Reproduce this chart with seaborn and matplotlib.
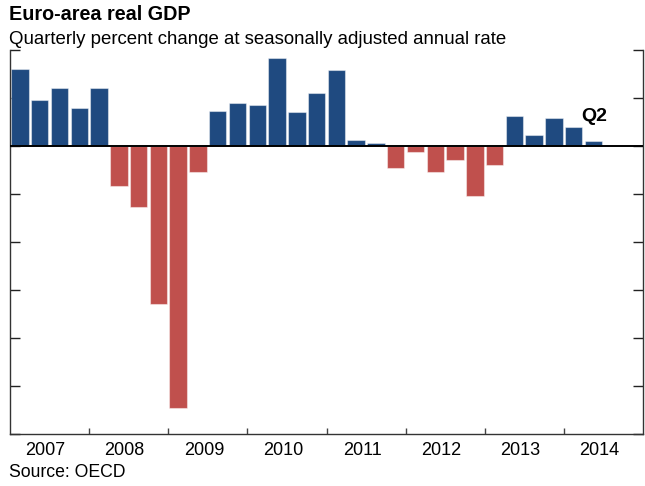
import matplotlib
matplotlib.use("Agg")
import matplotlib.pyplot as plt
import seaborn as sns
import pandas as pd
import numpy as np

quarters = [f"{y}Q{q}" for y in range(2007, 2015) for q in range(1, 5)][:30]
growth = [3.2, 1.9, 2.4, 1.6, 2.4,
          -1.65, -2.55, -6.6, -10.9, -1.1,
          1.45, 1.8, 1.7, 3.65, 1.4, 2.2, 3.15,
          0.25, 0.12, -0.9, -0.25, -1.1, -0.6, -2.1, -0.8,
          1.25, 0.45, 1.15, 0.8, 0.2]
years = ["2007", "2008", "2009", "2010", "2011", "2012", "2013", "2014"]

sns.set_theme(style="white")
plt.rcParams['font.family'] = ['Liberation Sans', 'DejaVu Sans']
plt.rcParams['text.color'] = 'black'

df = pd.DataFrame({"quarter": quarters, "growth": growth})
df["sign"] = np.where(df["growth"] >= 0, "pos", "neg")

fig = plt.figure(figsize=(6.45, 4.86), dpi=100)
ax = fig.add_axes([10/645, 1-434/486, 633/645, 384/486])

sns.barplot(data=df, x="quarter", y="growth", hue="sign", order=quarters,
            palette={"pos": "#1f4a80", "neg": "#c0504d"}, dodge=False, saturation=1,
            width=0.88, legend=False, ax=ax, edgecolor=(1, 1, 1, 0.45), linewidth=0.8)

ax.set_xlim(-0.5, 31.5)
ax.set_ylim(-12, 4)
ax.axhline(0, color="black", lw=1.4, zorder=5)

ax.set_yticks(np.arange(-12, 5, 2))
ax.set_yticklabels([])
ax.tick_params(axis="y", which="both", direction="in", length=7.5, width=1,
               left=True, right=True, color="#222222")
ax.set_xticks([3.5 + 4*i for i in range(7)])
ax.set_xticklabels([])
ax.tick_params(axis="x", direction="in", length=4, width=1, bottom=True, color="#444444")
ax.set_xlabel("")
ax.set_ylabel("")

for s in ["left", "bottom", "right"]:
    ax.spines[s].set_visible(True)
    ax.spines[s].set_color("#333333")
    ax.spines[s].set_linewidth(1.0)
ax.spines["top"].set_visible(False)

for i, yr in enumerate(years):
    ax.text(1.5 + 4*i - 0.2, -0.055, yr, transform=ax.get_xaxis_transform(),
            ha="center", va="baseline", fontsize=13, color="black")

ax.text(29.05, 1.23, "Q2", ha="center", va="center", fontsize=14, fontweight="bold", color="black")

fig.text(9/645, 1-20/486, "Euro-area real GDP", fontsize=14.2, fontweight="bold",
         ha="left", va="baseline")
fig.text(9/645, 1-44/486, "Quarterly percent change at seasonally adjusted annual rate",
         fontsize=13.4, ha="left", va="baseline")
fig.text(9/645, 1-477/486, "Source: OECD", fontsize=12.7, ha="left", va="baseline")

fig.savefig("out.png", dpi=100)
